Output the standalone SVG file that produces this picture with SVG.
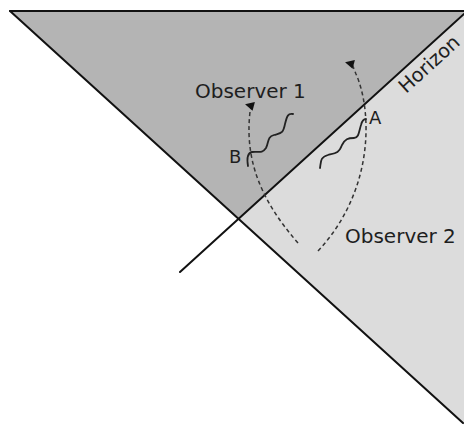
<svg xmlns="http://www.w3.org/2000/svg" width="464" height="425" viewBox="0 0 464 425">
<style>
.edge{stroke:#111;stroke-width:2;fill:none;stroke-linecap:round}
.world{stroke:#333;stroke-width:1.5;fill:none;stroke-dasharray:4 3}
.wave{stroke:#222;stroke-width:1.8;fill:none;stroke-linecap:round}
.lbl{font-family:"DejaVu Sans",sans-serif;fill:#1e1e1e}
</style>
<defs>
<marker id="arr" viewBox="0 0 10 10" refX="2" refY="5" markerWidth="11" markerHeight="9" markerUnits="userSpaceOnUse" orient="195">
<path d="M0,0 L10,5 L0,10 z" fill="#111"/>
</marker>
</defs>
<rect width="464" height="425" fill="#fff"/>
<g id="regions">
<polygon points="10,11 464,11 464,14 239,219" fill="#b4b4b4"/>
<polygon points="239,219 464,14 464,425 463,423" fill="#dcdcdc"/>
</g>
<g id="connectors">
<line class="edge" x1="10" y1="11" x2="464" y2="11"/>
<line class="edge" x1="10" y1="11" x2="463" y2="423"/>
<line class="edge" x1="180" y1="272" x2="464" y2="14"/>
<path class="world" d="M298,243 C265,205 244,165 250,112 L252,106" marker-end="url(#arr)"/>
<path class="world" d="M318,251 C375,190 372,110 356,74 L352,64" marker-end="url(#arr)"/>
<path class="wave" d="M248,166 C247,160 247,153 252,152 C258,151 262,154 266,148 C269,142 267,137 274,135 C281,133 283,134 285,124 C287,116 288,113 293,114"/>
<path class="wave" d="M320,168 C321,162 320,157 328,155 C336,153 339,153 342,145 C345,139 348,138 354,138 C359,138 359,131 361,125 C362,121 363,119 366,119"/>
</g>
<g id="observer1"><text class="lbl" x="195" y="98" font-size="20">Observer 1</text></g>
<g id="observer2"><text class="lbl" x="345" y="243" font-size="20">Observer 2</text></g>
<g id="labelA"><text class="lbl" x="369" y="124" font-size="18">A</text></g>
<g id="labelB"><text class="lbl" x="229" y="163" font-size="18">B</text></g>
<g id="horizon"><text class="lbl" font-size="19.5" transform="translate(406,94) rotate(-42.2)">Horizon</text></g>
</svg>
